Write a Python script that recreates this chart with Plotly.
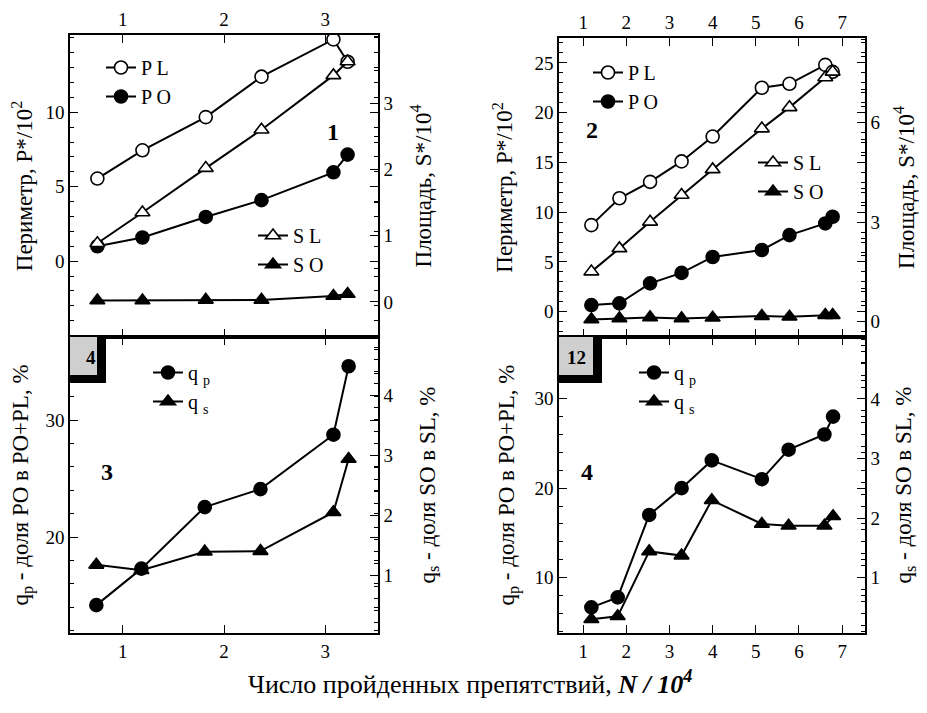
import plotly.graph_objects as go

FONT = "Liberation Serif, Times New Roman, serif"

# ---------------- data ----------------
# Panel 1
n1 = [0.75, 1.195, 1.82, 2.37, 3.08, 3.22]
pl1 = [5.55, 7.45, 9.68, 12.4, 14.9, 13.4]
po1 = [1.0, 1.59, 2.97, 4.1, 5.97, 7.16]
sl1 = [0.885, 1.35, 2.02, 2.6, 3.42, 3.63]
so1 = [0.02, 0.02, 0.03, 0.03, 0.09, 0.12]
# Panel 2
n2 = [1.19, 1.84, 2.55, 3.28, 4.0, 5.14, 5.78, 6.61, 6.78]
pl2 = [8.7, 11.4, 13.05, 15.1, 17.6, 22.5, 22.9, 24.8, 24.1]
po2 = [0.67, 0.84, 2.85, 3.9, 5.5, 6.2, 7.7, 8.87, 9.54]
sl2 = [1.51, 2.21, 3.01, 3.82, 4.59, 5.82, 6.46, 7.36, 7.53]
so2 = [0.07, 0.1, 0.13, 0.1, 0.12, 0.17, 0.15, 0.2, 0.2]
# Panel 3
n3 = [0.74, 1.185, 1.81, 2.36, 3.08, 3.23]
qp3 = [14.18, 17.3, 22.56, 24.1, 28.75, 34.6]
qs3 = [1.17, 1.08, 1.39, 1.4, 2.05, 2.94]
# Panel 4
n4 = [1.19, 1.8, 2.53, 3.28, 3.98, 5.14, 5.76, 6.59, 6.79]
qp4 = [6.67, 7.78, 17.0, 20.0, 23.1, 21.0, 24.3, 26.0, 28.0]
qs4 = [0.3, 0.35, 1.44, 1.37, 2.3, 1.9, 1.87, 1.87, 2.03]

# tick values
xt1 = [1, 2, 3]
xt2 = [1, 2, 3, 4, 5, 6, 7]
yt_p1 = [0, 5, 10]
yt_s1 = [0, 1, 2, 3]
yt_p2 = [0, 5, 10, 15, 20, 25]
yt_s2 = [0, 3, 6]
yt_qp3 = [20, 30]
yt_qs3 = [1, 2, 3, 4]
yt_qp4 = [10, 20, 30]
yt_qs4 = [1, 2, 3, 4]

panel_labels = ["1", "2", "3", "4"]
inset_labels = ["4", "12"]

# page body has an 8px margin: the figure is sized to fit inside it
OFF = 8
W, H = 927 - 2 * OFF, 713 - 2 * OFF
def px(v):
    return (v - OFF) / W
def py(v):
    return 1 - (v - OFF) / H

fig = go.Figure()

def marker(symbol, fill):
    return dict(symbol=symbol, size=13, color=fill, line=dict(color="black", width=1.6))

LINE = dict(color="black", width=2)

def add(x, y, name, symbol, fill, xa, ya, leg):
    fig.add_trace(go.Scatter(x=x, y=y, name=name, mode="lines+markers",
                             marker=marker(symbol, fill), line=LINE,
                             xaxis=xa, yaxis=ya, legend=leg))

add(n1, pl1, "P L", "circle", "white", "x", "y", "legend")
add(n1, po1, "P O", "circle", "black", "x", "y", "legend")
add(n1, sl1, "S L", "triangle-up", "white", "x", "y2", "legend2")
add(n1, so1, "S O", "triangle-up", "black", "x", "y2", "legend2")

add(n2, pl2, "P L", "circle", "white", "x2", "y3", "legend3")
add(n2, po2, "P O", "circle", "black", "x2", "y3", "legend3")
add(n2, sl2, "S L", "triangle-up", "white", "x2", "y4", "legend4")
add(n2, so2, "S O", "triangle-up", "black", "x2", "y4", "legend4")

add(n3, qp3, "q <sub>p</sub>", "circle", "black", "x3", "y5", "legend5")
add(n3, qs3, "q <sub>s</sub>", "triangle-up", "black", "x3", "y6", "legend5")

add(n4, qp4, "q <sub>p</sub>", "circle", "black", "x4", "y7", "legend6")
add(n4, qs4, "q <sub>s</sub>", "triangle-up", "black", "x4", "y8", "legend6")

# ---------------- layout ----------------
TICKF = dict(family=FONT, size=19, color="black")
TITLEF = dict(family=FONT, size=23, color="black")

def minor(dt):
    return dict(tickmode="linear", tick0=0, dtick=dt, ticks="inside", ticklen=4,
                tickcolor="black", tickwidth=1)

def ax_common(tv, **kw):
    d = dict(showline=True, linecolor="black", linewidth=1.5, mirror="ticks",
             ticks="inside", ticklen=8, tickwidth=1.3, tickcolor="black",
             tickfont=TICKF, showgrid=False, zeroline=False, automargin=False,
             tickmode="array", tickvals=tv)
    d.update(kw)
    return d

left_x = [px(70), px(378)]
right_x = [px(559), px(865)]
top_y1 = [py(337), py(35)]
top_y2 = [py(337), py(38)]
bot_y = [py(633), py(337)]

range1 = [0.48, 3.52]
range2 = [0.44, 7.53]

T_P = "Периметр, P*/10<sup>2</sup>"
T_S = "Площадь, S*/10<sup>4</sup>"
T_QP = "q<sub>p</sub> - доля PO в PO+PL, %"
T_QS = "q<sub>s</sub> - доля SO в SL, %"

layout = dict(
    template="none",
    width=W, height=H, margin=dict(l=0, r=0, t=0, b=0, autoexpand=False),
    paper_bgcolor="white", plot_bgcolor="white",
    font=dict(family=FONT, color="black"),
    xaxis=ax_common(xt1, domain=left_x, range=range1, side="top", anchor="y"),
    yaxis=ax_common(yt_p1, domain=top_y1, range=[-5.1, 15.2], anchor="x", minor=minor(1),
                    title=dict(text=T_P, font=TITLEF, standoff=12)),
    yaxis2=ax_common(yt_s1, range=[-0.53, 4.03], overlaying="y", side="right", anchor="x",
                     mirror=False, minor=minor(0.5),
                     title=dict(text=T_S, font=TITLEF, standoff=23)),
    xaxis2=ax_common(xt2, domain=right_x, range=range2, side="top", anchor="y3"),
    yaxis3=ax_common(yt_p2, domain=top_y2, range=[-2.54, 27.5], anchor="x2", minor=minor(1),
                     title=dict(text=T_P, font=TITLEF, standoff=15)),
    yaxis4=ax_common(yt_s2, range=[-0.46, 8.55], overlaying="y3", side="right", anchor="x2",
                     mirror=False, minor=minor(0.5),
                     title=dict(text=T_S, font=TITLEF, standoff=27)),
    xaxis3=ax_common(xt1, domain=left_x, range=range1, side="bottom", anchor="y5"),
    yaxis5=ax_common(yt_qp3, domain=bot_y, range=[11.8, 37.1], anchor="x3", minor=minor(2),
                     title=dict(text=T_QP, font=TITLEF, standoff=10)),
    yaxis6=ax_common(yt_qs3, range=[0.03, 4.98], overlaying="y5", side="right", anchor="x3",
                     mirror=False, minor=minor(0.2),
                     title=dict(text=T_QS, font=TITLEF, standoff=26)),
    xaxis4=ax_common(xt2, domain=right_x, range=range2, side="bottom", anchor="y7"),
    yaxis7=ax_common(yt_qp4, domain=bot_y, range=[3.8, 36.9], anchor="x4", minor=minor(2),
                     title=dict(text=T_QP, font=TITLEF, standoff=13)),
    yaxis8=ax_common(yt_qs4, range=[0.07, 5.04], overlaying="y7", side="right", anchor="x4",
                     mirror=False, minor=minor(0.2),
                     title=dict(text=T_QS, font=TITLEF, standoff=23)),
)

LEGF = dict(family=FONT, size=20, color="black")
def legend(xp, yp):
    return dict(x=px(xp), y=py(yp), xanchor="left", yanchor="top",
                bgcolor="rgba(0,0,0,0)", borderwidth=0, font=LEGF,
                traceorder="normal", itemwidth=30, tracegroupgap=0)

layout["legend"] = legend(101, 48)
layout["legend2"] = legend(253, 216)
layout["legend3"] = legend(588, 53)
layout["legend4"] = legend(753, 143)
layout["legend5"] = legend(148, 353)
layout["legend6"] = legend(634, 353)

fig.update_layout(**layout)

# panel numbers
PANF = dict(family=FONT, size=24, color="black")
for txt, (xx, yy) in zip(panel_labels, [(333, 132), (592, 130), (107, 472), (587, 472)]):
    fig.add_annotation(text="<b>%s</b>" % txt, x=px(xx), y=py(yy), xref="paper", yref="paper",
                       showarrow=False, font=PANF, xanchor="center", yanchor="middle")

# small inset boxes in lower panels
for txt, (x0, x1, xi), in zip(inset_labels, [(70, 106, 97), (559, 602, 593)]):
    fig.add_shape(type="rect", xref="paper", yref="paper",
                  x0=px(x0), x1=px(x1), y0=py(383), y1=py(337),
                  fillcolor="black", line=dict(width=0))
    fig.add_shape(type="rect", xref="paper", yref="paper",
                  x0=px(x0), x1=px(xi), y0=py(375), y1=py(337),
                  fillcolor="#cfcfcf", line=dict(width=0))
    fig.add_annotation(text="<b>%s</b>" % txt, x=px((x0 + xi) / 2), y=py(357),
                       xref="paper", yref="paper", showarrow=False,
                       font=dict(family=FONT, size=19, color="black"))

# common x title
fig.add_annotation(text="Число пройденных препятствий, <b><i>N / 10<sup>4</sup></i></b>",
                   x=px(470), y=py(701), xref="paper", yref="paper", showarrow=False,
                   font=dict(family=FONT, size=26, color="black"))

fig.write_html("out.html")
